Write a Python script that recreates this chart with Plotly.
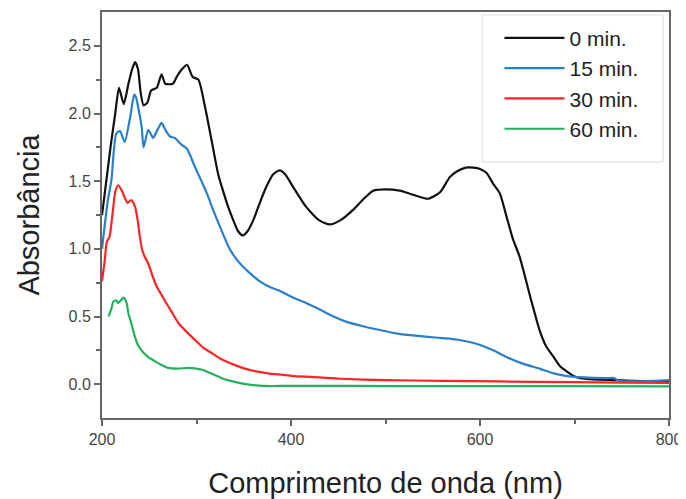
import plotly.graph_objects as go

# ---- data ----
wl_0 = [200, 209, 214, 218, 223, 228, 232, 235, 238, 241, 244, 248, 252, 258, 263, 267, 275, 279, 285, 290,
        296, 302, 309, 316, 323, 328, 334, 339, 344, 349, 354, 360, 367, 374, 381, 388, 394, 402, 416, 430,
        441, 452, 466, 477, 487, 500, 515, 529, 545, 558, 568, 575, 585, 593, 600, 607, 614, 621, 628, 635,
        642, 653, 663, 670, 678, 685, 692, 699, 706, 720, 741, 760, 780, 800]
abs_0 = [1.25, 1.75, 2.00, 2.19, 2.07, 2.22, 2.33, 2.38, 2.33, 2.15, 2.06, 2.08, 2.17, 2.19, 2.29, 2.22, 2.22, 2.27, 2.33, 2.36,
         2.27, 2.25, 2.05, 1.80, 1.55, 1.43, 1.30, 1.21, 1.13, 1.10, 1.13, 1.21, 1.34, 1.46, 1.55, 1.58, 1.55, 1.46, 1.31, 1.21,
         1.18, 1.21, 1.29, 1.37, 1.43, 1.44, 1.43, 1.40, 1.37, 1.42, 1.53, 1.57, 1.60, 1.60, 1.59, 1.56, 1.48, 1.41, 1.24, 1.07,
         0.94, 0.65, 0.40, 0.28, 0.20, 0.13, 0.093, 0.06, 0.044, 0.035, 0.03, 0.025, 0.02, 0.02]

wl_15 = [200, 206, 210, 215, 219, 224, 230, 234, 236, 239, 242, 244, 249, 254, 258, 263, 267, 272, 277, 284,
         290, 298, 304, 311, 318, 325, 335, 345, 355, 367, 380, 388, 402, 416, 431, 445, 459, 475, 494, 511,
         529, 545, 560, 575, 590, 600, 614, 628, 646, 663, 678, 692, 710, 734, 742, 746, 769, 785, 800]
abs_15 = [1.00, 1.35, 1.51, 1.85, 1.87, 1.79, 1.98, 2.14, 2.12, 2.02, 1.90, 1.75, 1.88, 1.82, 1.87, 1.93, 1.88, 1.83, 1.82, 1.77,
          1.74, 1.61, 1.52, 1.41, 1.28, 1.16, 1.00, 0.90, 0.83, 0.76, 0.71, 0.69, 0.64, 0.60, 0.55, 0.50, 0.46, 0.43, 0.40, 0.375,
          0.36, 0.35, 0.34, 0.33, 0.31, 0.29, 0.25, 0.20, 0.15, 0.115, 0.08, 0.06, 0.05, 0.045, 0.045, 0.027, 0.02, 0.025, 0.03]

wl_30 = [200, 203, 205, 208, 211, 214, 217, 221, 224, 227, 231, 235, 238, 240, 243, 246, 249, 254, 258, 263,
         268, 274, 281, 289, 298, 307, 316, 325, 334, 343, 351, 363, 376, 390, 404, 430, 452, 500, 560, 620,
         700, 750, 800]
abs_30 = [0.76, 0.92, 1.05, 1.09, 1.25, 1.42, 1.47, 1.43, 1.38, 1.34, 1.36, 1.31, 1.20, 1.09, 0.98, 0.93, 0.89, 0.79, 0.72, 0.66,
          0.60, 0.53, 0.45, 0.39, 0.33, 0.27, 0.23, 0.19, 0.16, 0.135, 0.115, 0.095, 0.08, 0.07, 0.06, 0.05, 0.04, 0.03, 0.025, 0.02,
          0.015, 0.012, 0.01]

wl_60 = [207, 210, 212, 215, 217, 220, 223, 226, 228, 231, 234, 238, 243, 249, 256, 262, 270, 280, 291, 300,
         307, 315, 325, 333, 345, 358, 370, 400, 460, 560, 680, 800]
abs_60 = [0.50, 0.56, 0.61, 0.62, 0.60, 0.62, 0.64, 0.60, 0.52, 0.45, 0.37, 0.29, 0.24, 0.20, 0.17, 0.145, 0.12, 0.115, 0.12, 0.115,
          0.105, 0.08, 0.05, 0.03, 0.01, -0.005, -0.013, -0.013, -0.013, -0.015, -0.015, -0.017]

series_names = ["0 min.", "15 min.", "30 min.", "60 min."]
series_colors = ["#111111", "#2a7fcc", "#ff2424", "#22b35a"]

x_ticks = [200, 400, 600, 800]
y_ticks = [0.0, 0.5, 1.0, 1.5, 2.0, 2.5]

fig = go.Figure()
for name, color, xs, ys in zip(series_names, series_colors,
                               [wl_0, wl_15, wl_30, wl_60],
                               [abs_0, abs_15, abs_30, abs_60]):
    fig.add_trace(go.Scatter(x=xs, y=ys, mode="lines", name=name,
                             line=dict(color=color, width=2.2, shape="spline", smoothing=0.6)))

font_family = "Liberation Sans, Arial, sans-serif"

# page body has an 8px default margin, so the figure is sized to fit in the window
fig.update_layout(
    width=678, height=491,
    margin=dict(l=94, r=17, t=4, b=81, autoexpand=False),
    paper_bgcolor="white", plot_bgcolor="white",
    font=dict(family=font_family, color="#222"),
    showlegend=True,
    legend=dict(x=0.701, y=0.986, xanchor="left", yanchor="top",
                bgcolor="rgba(0,0,0,0)", borderwidth=0,
                font=dict(size=21, color="#222", family=font_family),
                itemwidth=60, tracegroupgap=0),
    shapes=[dict(type="rect", xref="paper", yref="paper",
                 x0=(482 - 102) / 567, x1=(663 - 102) / 567,
                 y0=(418 - 162) / 406, y1=(418 - 15) / 406,
                 line=dict(color="#dddddd", width=1), fillcolor="rgba(0,0,0,0)", layer="below")],
)

fig.update_xaxes(
    range=[200, 800], tickvals=x_ticks, ticktext=[str(v) for v in x_ticks],
    showline=True, linecolor="#666", linewidth=2, mirror=True,
    ticks="outside", ticklen=6, tickwidth=1.5, tickcolor="#666",
    minor=dict(tickvals=[300, 500, 700], ticks="outside", ticklen=4, tickcolor="#666", tickwidth=1.5),
    showgrid=False, zeroline=False, automargin=False,
    tickfont=dict(size=16, color="#444"),
    title=dict(text="Comprimento de onda (nm)", font=dict(size=29, color="#222"), standoff=26),
)
fig.update_yaxes(
    range=[-0.25, 2.75], tickvals=y_ticks, ticktext=[f"{v:.1f}" for v in y_ticks],
    showline=True, linecolor="#666", linewidth=2, mirror=True,
    ticks="outside", ticklen=6, tickwidth=1.5, tickcolor="#666",
    minor=dict(tickvals=[0.25, 0.75, 1.25, 1.75, 2.25], ticks="outside", ticklen=4, tickcolor="#666", tickwidth=1.5),
    showgrid=False, zeroline=False, automargin=False,
    tickfont=dict(size=16, color="#444"),
    title=dict(text="Absorbância", font=dict(size=29, color="#222"), standoff=20),
)

fig.write_html("out.html")
